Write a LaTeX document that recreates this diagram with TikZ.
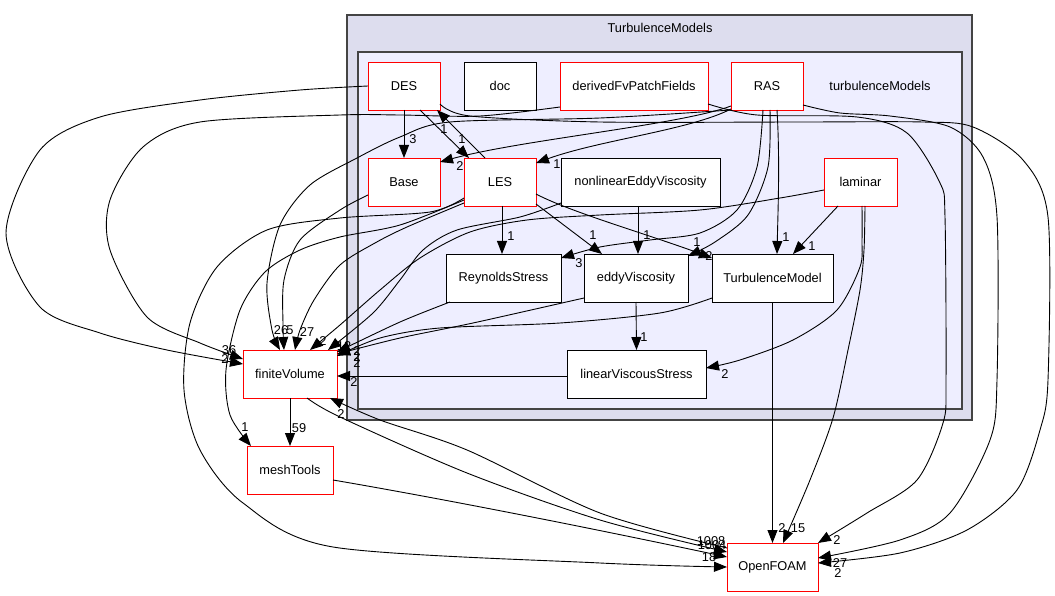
\documentclass[tikz,border=0pt]{standalone}
\usepackage{fontspec}
\setmainfont{Liberation Sans}
\usetikzlibrary{arrows.meta,calc}
\newcommand\gvfont{\fontsize{12.8}{15}\selectfont}
\definecolor{outerfill}{HTML}{DDDDEE}
\definecolor{innerfill}{HTML}{EEEEFF}
\definecolor{clborder}{HTML}{444444}
\begin{document}
\begin{tikzpicture}[x=1pt,y=-1pt,
 box/.style={draw=black, fill=white, line width=0.9pt, inner sep=0pt, outer sep=0pt, anchor=north west, minimum height=48pt, font=\gvfont},
 redbox/.style={box, draw=red},
 edge/.style={draw=black, line width=0.9pt, -{Triangle[length=13pt,width=10pt]}},
 lbl/.style={font=\gvfont, inner sep=0pt},
 cluster/.style={draw=clborder, line width=1.3pt}]
\useasboundingbox[fill=white] (0,0) rectangle (1055,596);
\draw[cluster, fill=outerfill] (347,15) rectangle (972,420);
\node[lbl] (outerlabel) at (660,28) {TurbulenceModels};
\draw[cluster, fill=innerfill] (358,52) rectangle (962,409);
\node[lbl] (innerlabel) at (880,86) {turbulenceModels};

% nodes
\node[redbox, minimum width=72pt] (DES) at (368,62) {DES};
\node[box, minimum width=72pt] (doc) at (464,62) {doc};
\node[redbox, minimum width=148pt] (dfp) at (560,62) {derivedFvPatchFields};
\node[redbox, minimum width=72pt] (RAS) at (731,62) {RAS};
\node[redbox, minimum width=72pt] (Base) at (368,158) {Base};
\node[redbox, minimum width=72pt] (LES) at (464,158) {LES};
\node[box, minimum width=159pt] (nlev) at (561,158) {nonlinearEddyViscosity};
\node[redbox, minimum width=73pt] (lam) at (824,158) {laminar};
\node[box, minimum width=115pt] (RS) at (446,254) {ReynoldsStress};
\node[box, minimum width=104pt] (ev) at (584,254) {eddyViscosity};
\node[box, minimum width=121pt] (TM) at (712,254) {TurbulenceModel};
\node[box, minimum width=139pt] (lvs) at (567,350) {linearViscousStress};
\node[redbox, minimum width=94pt] (FV) at (243,350) {finiteVolume};
\node[redbox, minimum width=86pt] (MT) at (247,446) {meshTools};
\node[redbox, minimum width=91pt] (OF) at (727,543) {OpenFOAM};

% edges inside cluster
\draw[edge] (DES.south) -- (Base.north);
\node[lbl] (l1) at (413,139) {3};
\draw[edge] ($(DES.north west)+(52,48)$) -- ($(LES.north west)+(5,0)$);
\node[lbl] (l2) at (462,139) {1};
\draw[edge] ($(LES.north west)+(21,0)$) -- ($(DES.north west)+(69,48)$);
\node[lbl] (l3) at (444,129) {1};
\draw[edge] ($(RAS.north west)+(0,44)$) .. controls (680,125) and (520,140) .. ($(Base.north west)+(72,4)$);
\node[lbl] (l4) at (460,166) {2};
\draw[edge] ($(RAS.north west)+(0,47)$) .. controls (690,130) and (600,140) .. ($(LES.north west)+(72,5)$);
\node[lbl] (l5) at (557,164) {1};

\draw[edge] ($(LES.north west)+(38,48)$) -- ($(RS.north west)+(56,0)$);
\node[lbl] (l11) at (511,236) {1};
\draw[edge] ($(LES.north west)+(72,46)$) -- ($(ev.north west)+(18,0)$);
\node[lbl] (l12) at (593,235) {1};
\draw[edge] ($(nlev.north west)+(77,48)$) -- ($(ev.north west)+(54,0)$);
\node[lbl] (l13) at (647,235) {1};
\draw[edge] ($(LES.north west)+(72,36)$) .. controls (570,212) and (650,235) .. ($(TM.north west)+(0,4)$);
\node[lbl] (l14) at (709,256) {2};
\draw[edge] plot[smooth] coordinates {($(RAS.north west)+(39,48)$) (768,167) (748,215) (715,242) ($(ev.north west)+(104,2)$)};
\node[lbl] (l15) at (697,242) {1};
\draw[edge] plot[smooth] coordinates {($(RAS.north west)+(32,48)$) (757,167) (737,210) (700,233) (650,240) (600,247) ($(RS.north west)+(115,4)$)};
\node[lbl] (l16) at (579,263) {3};
\draw[edge] ($(RAS.north west)+(46,48)$) .. controls (780,160) and (778,210) .. ($(TM.north west)+(65,0)$);
\node[lbl] (l17) at (786,237) {1};
\draw[edge] ($(lam.north west)+(14,48)$) -- ($(TM.north west)+(81,0)$);
\node[lbl] (l18) at (812,246) {1};
\draw[edge] plot[smooth] coordinates {($(lam.north west)+(38,48)$) (862,240) (860,267) (837,310) (793,340) (740,360) ($(lvs.north west)+(139,18)$)};
\node[lbl] (l19) at (725,374) {2};
\draw[edge] (ev.south) -- (lvs.north);
\node[lbl] (l20) at (644,337) {1};

% into finiteVolume
\draw[edge] plot[smooth] coordinates {(DES.west) (300,90) (200,100) (100,117) (40,150) (6,233) (40,307) (100,333) (167,350) ($(FV.north west)+(0,14)$)};
\node[lbl] (l21) at (229,350) {36};
\draw[edge] plot[smooth] coordinates {($(dfp.north west)+(0,45)$) (480,116) (400,115) (340,115) (200,122) (143,147) (110,200) (110,250) (147,317) (200,343) ($(FV.north west)+(0,9)$)};
\node[lbl] (l22) at (225,359) {2};
\draw[edge] plot[smooth] coordinates {($(RAS.north west)+(0,48)$) (600,118) (450,122) (400,137) (357,158) (310,185) (280,225) (267,283) (272,330) ($(FV.north west)+(37,0)$)};
\node[lbl] (l23) at (281,330) {26};
\draw[edge] plot[smooth] coordinates {($(Base.north west)+(0,37)$) (340,210) (300,240) (284,280) (283,325) ($(FV.north west)+(41,0)$)};
\node[lbl] (l24) at (290,330) {5};
\draw[edge] plot[smooth] coordinates {($(LES.north west)+(0,45)$) (407,227) (375,243) (340,265) (314,300) (300,330) ($(FV.north west)+(52,0)$)};
\node[lbl] (l25) at (307,332) {27};
\draw[edge] plot[smooth] coordinates {($(lam.north west)+(0,32)$) (780,198) (700,210) (600,215) (527,220) (470,232) (420,258) (380,290) (340,325) ($(FV.north west)+(67,0)$)};
\node[lbl] (l26) at (323,341) {2};
\draw[edge] plot[smooth] coordinates {($(nlev.north west)+(0,45)$) (520,217) (457,230) (423,250) (400,280) (373,313) ($(FV.north west)+(85,0)$)};
\node[lbl] (l27) at (344,346) {12};
\draw[edge] plot[smooth] coordinates {($(RS.north west)+(4,48)$) (400,322) ($(FV.north west)+(94,2)$)};
\node[lbl] (l28) at (357,351) {2};
\draw[edge] plot[smooth] coordinates {($(ev.north west)+(0,44)$) (473,323) (400,338) ($(FV.north west)+(94,4)$)};
\node[lbl] (l29) at (357,357) {2};
\draw[edge] plot[smooth] coordinates {($(TM.north west)+(0,44)$) (660,313) (560,323) (440,328) (380,338) ($(FV.north west)+(94,6)$)};
\node[lbl] (l30) at (357,363) {2};
\draw[edge] ($(lvs.north west)+(0,26)$) -- ($(FV.north west)+(94,26)$);
\node[lbl] (l31) at (354,382) {2};

% to meshTools / OpenFOAM
\draw[edge] plot[smooth] coordinates {($(LES.north west)+(0,42)$) (400,225) (340,237) (300,250) (265,272) (240,310) (226,370) (230,415) ($(MT.north west)+(4,0)$)};
\node[lbl] (l32) at (245,427) {1};
\draw[edge] plot[smooth] coordinates {($(LES.north west)+(0,40)$) (430,212) (340,218) (267,230) (217,267) (190,323) (184,390) (200,450) (243,503) (333,547) (600,563) ($(OF.north west)+(0,24)$)};
\node[lbl] (l33) at (709,557) {18};
\draw[edge] (FV.south) -- (MT.north);
\node[lbl] (l34) at (299,428) {59};
\draw[edge] plot[smooth] coordinates {($(FV.north west)+(64,48)$) (340,417) (467,473) (600,520) ($(OF.north west)+(0,9)$)};
\node[lbl] (l35) at (711,541) {1008};
\draw[edge] plot[smooth] coordinates {($(OF.north west)+(0,5)$) (600,513) (467,450) (380,420) ($(FV.north west)+(87,48)$)};
\node[lbl] (l36) at (341,414) {2};
\draw[edge] ($(MT.north west)+(86,34)$) .. controls (450,500) and (600,530) .. ($(OF.north west)+(0,14)$);
\node[lbl] (l37) at (712,545) {1004};

% right side into OpenFOAM
\draw[edge] (TM.south) -- (OF.north);
\node[lbl] (l38) at (782,528) {2};
\draw[edge] plot[smooth] coordinates {($(lam.north west)+(41,48)$) (864,250) (860,290) (848,350) (833,418) (810,480) ($(OF.north west)+(56,0)$)};
\node[lbl] (l39) at (798,528) {15};
\draw[edge] plot[smooth] coordinates {($(dfp.north west)+(148,42)$) (757,115) (857,117) (907,133) (940,183) (945,217) (946,380) (943,423) (917,480) (867,513) ($(OF.north west)+(91,0)$)};
\node[lbl] (l40) at (837,540) {2};
\draw[edge] plot[smooth] coordinates {($(RAS.north west)+(72,43)$) (840,113) (890,116) (950,127) (983,157) (997,217) (997,380) (990,440) (950,513) (900,540) ($(OF.north west)+(91,15)$)};
\node[lbl] (l41) at (840,563) {27};
\draw[edge] plot[smooth] coordinates {($(DES.north west)+(72,42)$) (470,116) (600,122) (800,122) (923,122) (973,127) (1023,160) (1048,217) (1048,380) (1040,430) (1017,490) (967,530) (900,553) ($(OF.north west)+(91,20)$)};
\node[lbl] (l42) at (838,573) {2};
\end{tikzpicture}
\end{document}
